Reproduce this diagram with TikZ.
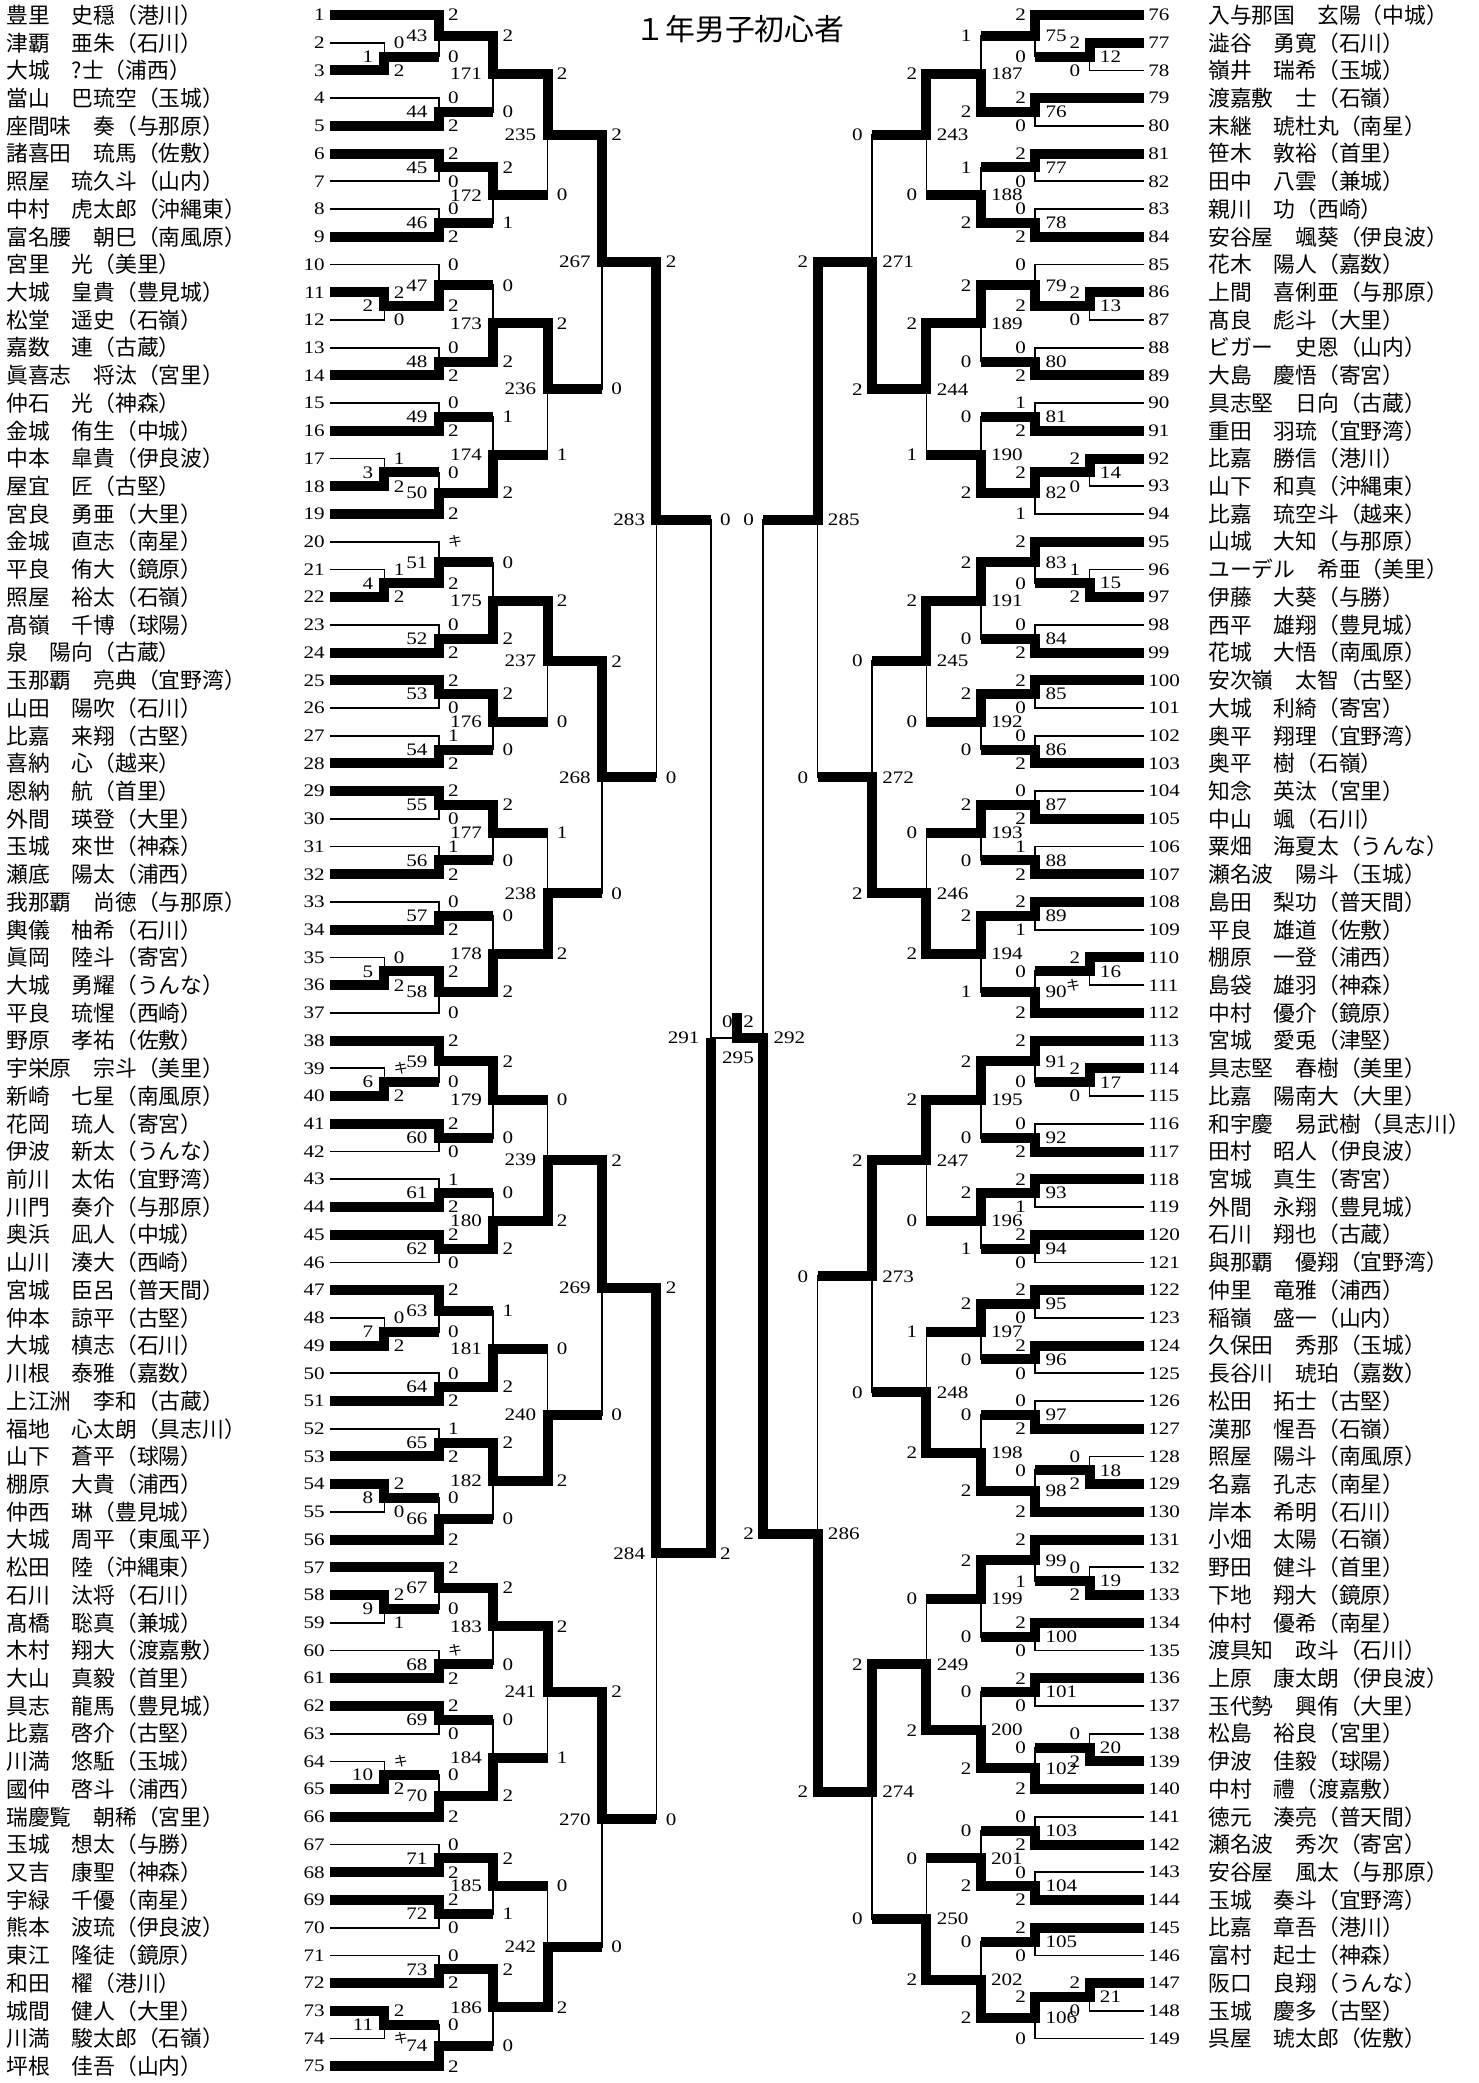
\documentclass[tikz,border=0pt]{standalone}
\usepackage{fontspec}
\setmainfont{Liberation Serif}
\newfontfamily\digits[FakeStretch=1.2]{Liberation Serif}
\newfontfamily\cjk{Noto Sans CJK JP}
\usetikzlibrary{calc}
\tikzset{
  lose/.style={line width=1pt},
  win/.style={line width=0.2cm},
  pno/.style={font=\digits\fontsize{10}{11}\selectfont},
  who/.style={anchor=west,font=\cjk\fontsize{12.4}{12.4}\selectfont},
}
\newcommand\kiken{{\cjk\fontsize{8}{8}\selectfont キ}}
% #1 match, #2/#3 entrants, #4 column, #5 next column, #6/#7 scores, #8 winner t/b
\newcommand\bout[8]{%
  \path ($(#2)!.5!(#3)$) coordinate (h);
  \coordinate (m#1) at (h -| #4);
  \draw[lose] (#2) -- (#2 -| #4) -- (#3 -| #4) -- (#3);
  \if t#8
    \draw[win] (#2) -- (#2 -| #4) -- (m#1) -- (m#1 -| #5);
  \else
    \draw[win] (#3) -- (#3 -| #4) -- (m#1) -- (m#1 -| #5);
  \fi
  \node[sco] (s#1a) at (#2 -| #4) {#6};
  \node[sco] (s#1b) at (#3 -| #4) {#7};
  \node[mno] (t#1) at (m#1) {#1};
}

\begin{document}
\begin{tikzpicture}[x=0.02cm,y=-0.02cm,every node/.style={inner sep=0pt,font=\digits\fontsize{10}{11}\selectfont}]
  \fill[white] (0,0) rectangle (1479,2083);
  \node[font=\cjk\fontsize{17}{17}\selectfont] (title) at (740,29) {１年男子初心者};

  \foreach \k in {0,...,7}{
    \coordinate (L\k) at ({330+54.4*\k},0);
    \coordinate (R\k) at ({1144-54.4*\k},0);
  }

  \foreach \i/\nm in {1/豊里　史穏（港川）, 2/津覇　亜朱（石川）, 3/大城　?士（浦西）, 4/當山　巴琉空（玉城）,
    5/座間味　奏（与那原）, 6/諸喜田　琉馬（佐敷）, 7/照屋　琉久斗（山内）, 8/中村　虎太郎（沖縄東）,
    9/富名腰　朝巳（南風原）, 10/宮里　光（美里）, 11/大城　皇貴（豊見城）, 12/松堂　遥史（石嶺）,
    13/嘉数　連（古蔵）, 14/眞喜志　将汰（宮里）, 15/仲石　光（神森）, 16/金城　侑生（中城）,
    17/中本　皐貴（伊良波）, 18/屋宜　匠（古堅）, 19/宮良　勇亜（大里）, 20/金城　直志（南星）,
    21/平良　侑大（鏡原）, 22/照屋　裕太（石嶺）, 23/髙嶺　千博（球陽）, 24/泉　陽向（古蔵）,
    25/玉那覇　亮典（宜野湾）, 26/山田　陽吹（石川）, 27/比嘉　来翔（古堅）, 28/喜納　心（越来）,
    29/恩納　航（首里）, 30/外間　瑛登（大里）, 31/玉城　來世（神森）, 32/瀬底　陽太（浦西）,
    33/我那覇　尚徳（与那原）, 34/輿儀　柚希（石川）, 35/眞岡　陸斗（寄宮）, 36/大城　勇耀（うんな）,
    37/平良　琉惺（西崎）, 38/野原　孝祐（佐敷）, 39/宇栄原　宗斗（美里）, 40/新崎　七星（南風原）,
    41/花岡　琉人（寄宮）, 42/伊波　新太（うんな）, 43/前川　太佑（宜野湾）, 44/川門　奏介（与那原）,
    45/奥浜　凪人（中城）, 46/山川　湊大（西崎）, 47/宮城　臣呂（普天間）, 48/仲本　諒平（古堅）,
    49/大城　槙志（石川）, 50/川根　泰雅（嘉数）, 51/上江洲　李和（古蔵）, 52/福地　心太朗（具志川）,
    53/山下　蒼平（球陽）, 54/棚原　大貴（浦西）, 55/仲西　琳（豊見城）, 56/大城　周平（東風平）,
    57/松田　陸（沖縄東）, 58/石川　汰将（石川）, 59/髙橋　聡真（兼城）, 60/木村　翔大（渡嘉敷）,
    61/大山　真毅（首里）, 62/具志　龍馬（豊見城）, 63/比嘉　啓介（古堅）, 64/川満　悠駈（玉城）,
    65/國仲　啓斗（浦西）, 66/瑞慶覧　朝稀（宮里）, 67/玉城　想太（与勝）, 68/又吉　康聖（神森）,
    69/宇緑　千優（南星）, 70/熊本　波琉（伊良波）, 71/東江　隆徒（鏡原）, 72/和田　櫂（港川）,
    73/城間　健人（大里）, 74/川満　駿太郎（石嶺）, 75/坪根　佳吾（山内）}{
    \coordinate (p\i) at (330,{15+27.72*(\i-1)});
    \node[pno,anchor=east] (q\i) at (325,{15+27.72*(\i-1)}) {\i};
    \node[who] (n\i) at (6,{15+27.72*(\i-1)}) {\nm};
  }

  \foreach \i/\nm in {76/入与那国　玄陽（中城）, 77/澁谷　勇寛（石川）, 78/嶺井　瑞希（玉城）, 79/渡嘉敷　士（石嶺）,
    80/末継　琥杜丸（南星）, 81/笹木　敦裕（首里）, 82/田中　八雲（兼城）, 83/親川　功（西崎）,
    84/安谷屋　颯葵（伊良波）, 85/花木　陽人（嘉数）, 86/上間　喜俐亜（与那原）, 87/髙良　彪斗（大里）,
    88/ビガー　史恩（山内）, 89/大島　慶悟（寄宮）, 90/具志堅　日向（古蔵）, 91/重田　羽琉（宜野湾）,
    92/比嘉　勝信（港川）, 93/山下　和真（沖縄東）, 94/比嘉　琉空斗（越来）, 95/山城　大知（与那原）,
    96/ユーデル　希亜（美里）, 97/伊藤　大葵（与勝）, 98/西平　雄翔（豊見城）, 99/花城　大悟（南風原）,
    100/安次嶺　太智（古堅）, 101/大城　利綺（寄宮）, 102/奥平　翔理（宜野湾）, 103/奥平　樹（石嶺）,
    104/知念　英汰（宮里）, 105/中山　颯（石川）, 106/粟畑　海夏太（うんな）, 107/瀬名波　陽斗（玉城）,
    108/島田　梨功（普天間）, 109/平良　雄道（佐敷）, 110/棚原　一登（浦西）, 111/島袋　雄羽（神森）,
    112/中村　優介（鏡原）, 113/宮城　愛兎（津堅）, 114/具志堅　春樹（美里）, 115/比嘉　陽南大（大里）,
    116/和宇慶　易武樹（具志川）, 117/田村　昭人（伊良波）, 118/宮城　真生（寄宮）, 119/外間　永翔（豊見城）,
    120/石川　翔也（古蔵）, 121/與那覇　優翔（宜野湾）, 122/仲里　竜雅（浦西）, 123/稲嶺　盛一（山内）,
    124/久保田　秀那（玉城）, 125/長谷川　琥珀（嘉数）, 126/松田　拓士（古堅）, 127/漢那　惺吾（石嶺）,
    128/照屋　陽斗（南風原）, 129/名嘉　孔志（南星）, 130/岸本　希明（石川）, 131/小畑　太陽（石嶺）,
    132/野田　健斗（首里）, 133/下地　翔大（鏡原）, 134/仲村　優希（南星）, 135/渡具知　政斗（石川）,
    136/上原　康太朗（伊良波）, 137/玉代勢　興侑（大里）, 138/松島　裕良（宮里）, 139/伊波　佳毅（球陽）,
    140/中村　禮（渡嘉敷）, 141/徳元　湊亮（普天間）, 142/瀬名波　秀次（寄宮）, 143/安谷屋　風太（与那原）,
    144/玉城　奏斗（宜野湾）, 145/比嘉　章吾（港川）, 146/富村　起士（神森）, 147/阪口　良翔（うんな）,
    148/玉城　慶多（古堅）, 149/呉屋　琥太郎（佐敷）}{
    \coordinate (p\i) at (1144,{15+27.72*(\i-76)});
    \node[pno,anchor=west] (q\i) at (1148,{15+27.72*(\i-76)}) {\i};
    \node[who] (n\i) at (1208,{15+27.72*(\i-76)}) {\nm};
  }

  \begin{scope}[sco/.style={anchor=west,xshift=0.18cm},mno/.style={anchor=east,xshift=-0.22cm}]
    \bout{1}{p2}{p3}{L1}{L2}{0}{2}{b}
    \bout{2}{p11}{p12}{L1}{L2}{2}{0}{t}
    \bout{3}{p17}{p18}{L1}{L2}{1}{2}{b}
    \bout{4}{p21}{p22}{L1}{L2}{1}{2}{b}
    \bout{5}{p35}{p36}{L1}{L2}{0}{2}{b}
    \bout{6}{p39}{p40}{L1}{L2}{\kiken}{2}{b}
    \bout{7}{p48}{p49}{L1}{L2}{0}{2}{b}
    \bout{8}{p54}{p55}{L1}{L2}{2}{0}{t}
    \bout{9}{p58}{p59}{L1}{L2}{2}{1}{t}
    \bout{10}{p64}{p65}{L1}{L2}{\kiken}{2}{b}
    \bout{11}{p73}{p74}{L1}{L2}{2}{\kiken}{t}

    \bout{43}{p1}{m1}{L2}{L3}{2}{0}{t}
    \bout{44}{p4}{p5}{L2}{L3}{0}{2}{b}
    \bout{45}{p6}{p7}{L2}{L3}{2}{0}{t}
    \bout{46}{p8}{p9}{L2}{L3}{0}{2}{b}
    \bout{47}{p10}{m2}{L2}{L3}{0}{2}{b}
    \bout{48}{p13}{p14}{L2}{L3}{0}{2}{b}
    \bout{49}{p15}{p16}{L2}{L3}{0}{2}{b}
    \bout{50}{m3}{p19}{L2}{L3}{0}{2}{b}
    \bout{51}{p20}{m4}{L2}{L3}{\kiken}{2}{b}
    \bout{52}{p23}{p24}{L2}{L3}{0}{2}{b}
    \bout{53}{p25}{p26}{L2}{L3}{2}{0}{t}
    \bout{54}{p27}{p28}{L2}{L3}{1}{2}{b}
    \bout{55}{p29}{p30}{L2}{L3}{2}{0}{t}
    \bout{56}{p31}{p32}{L2}{L3}{1}{2}{b}
    \bout{57}{p33}{p34}{L2}{L3}{0}{2}{b}
    \bout{58}{m5}{p37}{L2}{L3}{2}{0}{t}
    \bout{59}{p38}{m6}{L2}{L3}{2}{0}{t}
    \bout{60}{p41}{p42}{L2}{L3}{2}{0}{t}
    \bout{61}{p43}{p44}{L2}{L3}{1}{2}{b}
    \bout{62}{p45}{p46}{L2}{L3}{2}{0}{t}
    \bout{63}{p47}{m7}{L2}{L3}{2}{0}{t}
    \bout{64}{p50}{p51}{L2}{L3}{0}{2}{b}
    \bout{65}{p52}{p53}{L2}{L3}{1}{2}{b}
    \bout{66}{m8}{p56}{L2}{L3}{0}{2}{b}
    \bout{67}{p57}{m9}{L2}{L3}{2}{0}{t}
    \bout{68}{p60}{p61}{L2}{L3}{\kiken}{2}{b}
    \bout{69}{p62}{p63}{L2}{L3}{2}{0}{t}
    \bout{70}{m10}{p66}{L2}{L3}{0}{2}{b}
    \bout{71}{p67}{p68}{L2}{L3}{0}{2}{b}
    \bout{72}{p69}{p70}{L2}{L3}{2}{0}{t}
    \bout{73}{p71}{p72}{L2}{L3}{0}{2}{b}
    \bout{74}{m11}{p75}{L2}{L3}{0}{2}{b}

    \bout{171}{m43}{m44}{L3}{L4}{2}{0}{t}
    \bout{172}{m45}{m46}{L3}{L4}{2}{1}{t}
    \bout{173}{m47}{m48}{L3}{L4}{0}{2}{b}
    \bout{174}{m49}{m50}{L3}{L4}{1}{2}{b}
    \bout{175}{m51}{m52}{L3}{L4}{0}{2}{b}
    \bout{176}{m53}{m54}{L3}{L4}{2}{0}{t}
    \bout{177}{m55}{m56}{L3}{L4}{2}{0}{t}
    \bout{178}{m57}{m58}{L3}{L4}{0}{2}{b}
    \bout{179}{m59}{m60}{L3}{L4}{2}{0}{t}
    \bout{180}{m61}{m62}{L3}{L4}{0}{2}{b}
    \bout{181}{m63}{m64}{L3}{L4}{1}{2}{b}
    \bout{182}{m65}{m66}{L3}{L4}{2}{0}{t}
    \bout{183}{m67}{m68}{L3}{L4}{2}{0}{t}
    \bout{184}{m69}{m70}{L3}{L4}{0}{2}{b}
    \bout{185}{m71}{m72}{L3}{L4}{2}{1}{t}
    \bout{186}{m73}{m74}{L3}{L4}{2}{0}{t}

    \bout{235}{m171}{m172}{L4}{L5}{2}{0}{t}
    \bout{236}{m173}{m174}{L4}{L5}{2}{1}{t}
    \bout{237}{m175}{m176}{L4}{L5}{2}{0}{t}
    \bout{238}{m177}{m178}{L4}{L5}{1}{2}{b}
    \bout{239}{m179}{m180}{L4}{L5}{0}{2}{b}
    \bout{240}{m181}{m182}{L4}{L5}{0}{2}{b}
    \bout{241}{m183}{m184}{L4}{L5}{2}{1}{t}
    \bout{242}{m185}{m186}{L4}{L5}{0}{2}{b}

    \bout{267}{m235}{m236}{L5}{L6}{2}{0}{t}
    \bout{268}{m237}{m238}{L5}{L6}{2}{0}{t}
    \bout{269}{m239}{m240}{L5}{L6}{2}{0}{t}
    \bout{270}{m241}{m242}{L5}{L6}{2}{0}{t}

    \bout{283}{m267}{m268}{L6}{L7}{2}{0}{t}
    \bout{284}{m269}{m270}{L6}{L7}{2}{0}{t}
  \end{scope}

  \begin{scope}[sco/.style={anchor=east,xshift=-0.18cm},mno/.style={anchor=west,xshift=0.2cm}]
    \bout{12}{p77}{p78}{R1}{R2}{2}{0}{t}
    \bout{13}{p86}{p87}{R1}{R2}{2}{0}{t}
    \bout{14}{p92}{p93}{R1}{R2}{2}{0}{t}
    \bout{15}{p96}{p97}{R1}{R2}{1}{2}{b}
    \bout{16}{p110}{p111}{R1}{R2}{2}{\kiken}{t}
    \bout{17}{p114}{p115}{R1}{R2}{2}{0}{t}
    \bout{18}{p128}{p129}{R1}{R2}{0}{2}{b}
    \bout{19}{p132}{p133}{R1}{R2}{0}{2}{b}
    \bout{20}{p138}{p139}{R1}{R2}{0}{2}{b}
    \bout{21}{p147}{p148}{R1}{R2}{2}{0}{t}

    \bout{75}{p76}{m12}{R2}{R3}{2}{0}{t}
    \bout{76}{p79}{p80}{R2}{R3}{2}{0}{t}
    \bout{77}{p81}{p82}{R2}{R3}{2}{0}{t}
    \bout{78}{p83}{p84}{R2}{R3}{0}{2}{b}
    \bout{79}{p85}{m13}{R2}{R3}{0}{2}{b}
    \bout{80}{p88}{p89}{R2}{R3}{0}{2}{b}
    \bout{81}{p90}{p91}{R2}{R3}{1}{2}{b}
    \bout{82}{m14}{p94}{R2}{R3}{2}{1}{t}
    \bout{83}{p95}{m15}{R2}{R3}{2}{0}{t}
    \bout{84}{p98}{p99}{R2}{R3}{0}{2}{b}
    \bout{85}{p100}{p101}{R2}{R3}{2}{0}{t}
    \bout{86}{p102}{p103}{R2}{R3}{0}{2}{b}
    \bout{87}{p104}{p105}{R2}{R3}{0}{2}{b}
    \bout{88}{p106}{p107}{R2}{R3}{1}{2}{b}
    \bout{89}{p108}{p109}{R2}{R3}{2}{1}{t}
    \bout{90}{m16}{p112}{R2}{R3}{0}{2}{b}
    \bout{91}{p113}{m17}{R2}{R3}{2}{0}{t}
    \bout{92}{p116}{p117}{R2}{R3}{0}{2}{b}
    \bout{93}{p118}{p119}{R2}{R3}{2}{1}{t}
    \bout{94}{p120}{p121}{R2}{R3}{2}{0}{t}
    \bout{95}{p122}{p123}{R2}{R3}{2}{0}{t}
    \bout{96}{p124}{p125}{R2}{R3}{2}{0}{t}
    \bout{97}{p126}{p127}{R2}{R3}{0}{2}{b}
    \bout{98}{m18}{p130}{R2}{R3}{0}{2}{b}
    \bout{99}{p131}{m19}{R2}{R3}{2}{1}{t}
    \bout{100}{p134}{p135}{R2}{R3}{2}{0}{t}
    \bout{101}{p136}{p137}{R2}{R3}{2}{0}{t}
    \bout{102}{m20}{p140}{R2}{R3}{0}{2}{b}
    \bout{103}{p141}{p142}{R2}{R3}{0}{2}{b}
    \bout{104}{p143}{p144}{R2}{R3}{0}{2}{b}
    \bout{105}{p145}{p146}{R2}{R3}{2}{0}{t}
    \bout{106}{m21}{p149}{R2}{R3}{2}{0}{t}

    \bout{187}{m75}{m76}{R3}{R4}{1}{2}{b}
    \bout{188}{m77}{m78}{R3}{R4}{1}{2}{b}
    \bout{189}{m79}{m80}{R3}{R4}{2}{0}{t}
    \bout{190}{m81}{m82}{R3}{R4}{0}{2}{b}
    \bout{191}{m83}{m84}{R3}{R4}{2}{0}{t}
    \bout{192}{m85}{m86}{R3}{R4}{2}{0}{t}
    \bout{193}{m87}{m88}{R3}{R4}{2}{0}{t}
    \bout{194}{m89}{m90}{R3}{R4}{2}{1}{t}
    \bout{195}{m91}{m92}{R3}{R4}{2}{0}{t}
    \bout{196}{m93}{m94}{R3}{R4}{2}{1}{t}
    \bout{197}{m95}{m96}{R3}{R4}{2}{0}{t}
    \bout{198}{m97}{m98}{R3}{R4}{0}{2}{b}
    \bout{199}{m99}{m100}{R3}{R4}{2}{0}{t}
    \bout{200}{m101}{m102}{R3}{R4}{0}{2}{b}
    \bout{201}{m103}{m104}{R3}{R4}{0}{2}{b}
    \bout{202}{m105}{m106}{R3}{R4}{0}{2}{b}

    \bout{243}{m187}{m188}{R4}{R5}{2}{0}{t}
    \bout{244}{m189}{m190}{R4}{R5}{2}{1}{t}
    \bout{245}{m191}{m192}{R4}{R5}{2}{0}{t}
    \bout{246}{m193}{m194}{R4}{R5}{0}{2}{b}
    \bout{247}{m195}{m196}{R4}{R5}{2}{0}{t}
    \bout{248}{m197}{m198}{R4}{R5}{1}{2}{b}
    \bout{249}{m199}{m200}{R4}{R5}{0}{2}{b}
    \bout{250}{m201}{m202}{R4}{R5}{0}{2}{b}

    \bout{271}{m243}{m244}{R5}{R6}{0}{2}{b}
    \bout{272}{m245}{m246}{R5}{R6}{0}{2}{b}
    \bout{273}{m247}{m248}{R5}{R6}{2}{0}{t}
    \bout{274}{m249}{m250}{R5}{R6}{2}{0}{t}

    \bout{285}{m271}{m272}{R6}{R7}{2}{0}{t}
    \bout{286}{m273}{m274}{R6}{R7}{0}{2}{b}
  \end{scope}

  % semifinals and final
  \coordinate (F) at (737,1038);
  \coordinate (m291) at (F -| L7);
  \coordinate (m292) at (F -| R7);
  \draw[lose] (m283) -- (m283 -| L7) -- (m284 -| L7) -- (m284);
  \draw[win] (m284) -- (m284 -| L7) -- (m291);
  \draw[lose] (m291) -- (F);
  \draw[lose] (m285) -- (m285 -| R7) -- (m286 -| R7) -- (m286);
  \draw[win] (m286) -- (m286 -| R7) -- (m292) -- (F) -- ++(0,-25);
  \node[anchor=west,xshift=0.18cm] (s291a) at (m283 -| L7) {0};
  \node[anchor=west,xshift=0.18cm] (s291b) at (m284 -| L7) {2};
  \node[anchor=east,xshift=-0.22cm] (t291) at (m291) {291};
  \node[anchor=east,xshift=-0.18cm] (s292a) at (m285 -| R7) {0};
  \node[anchor=east,xshift=-0.18cm] (s292b) at (m286 -| R7) {2};
  \node[anchor=west,xshift=0.2cm] (t292) at (m292) {292};
  \node[anchor=east] (s295a) at (733,1022) {0};
  \node[anchor=west] (s295b) at (743,1022) {2};
  \node (t295) at (738,1058) {295};
\end{tikzpicture}
\end{document}
